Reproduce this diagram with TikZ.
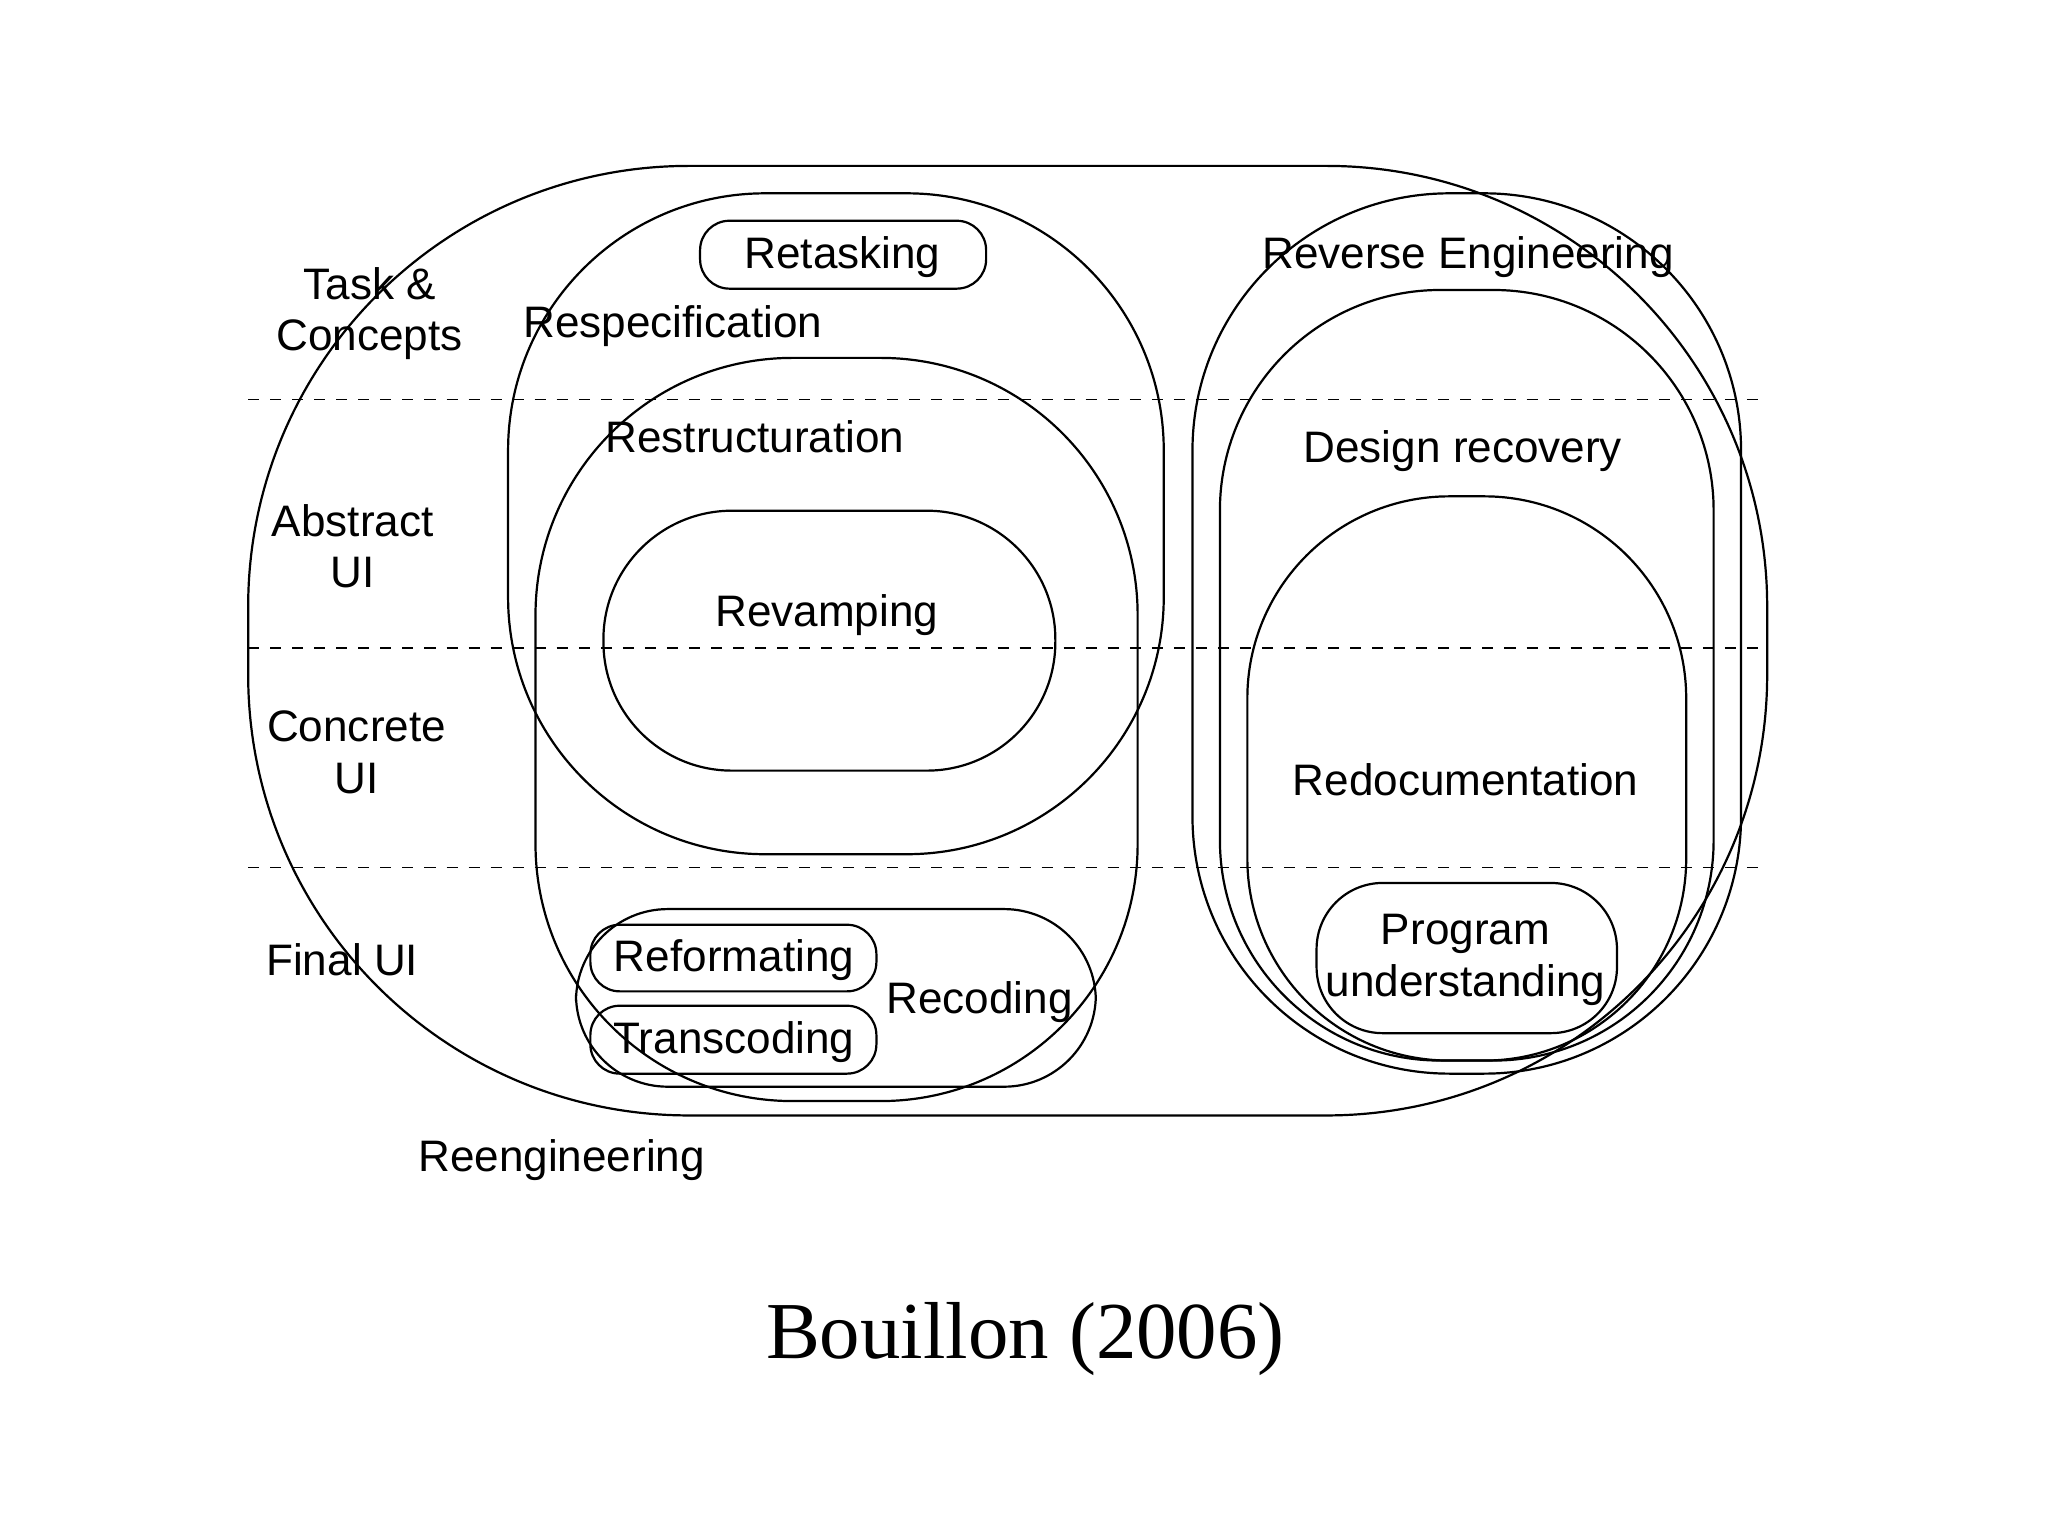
\documentclass[tikz,border=0pt]{standalone}
\usepackage{fontspec}
\setmainfont{Liberation Sans}
\newfontfamily\titlefont{Liberation Serif}
\begin{document}
\begin{tikzpicture}[x=0.0125cm,y=-0.0125cm,
  box/.style={draw,line width=0.6pt},
  lbl/.style={font=\fontsize{12}{14}\selectfont,align=center,inner sep=0pt},
  lvl/.style={draw,dashed,line width=0.4pt}]
\useasboundingbox (0,0) rectangle (1568,1176);
\fill[white] (0,0) rectangle (1568,1176);
% outer
\draw[box,rounded corners=120] (190,127) rectangle (1353,854);
\node[lbl] (reeng) at (430,888) {Reengineering};
% dashed level lines
\coordinate (d1a) at (190,306); \coordinate (d1b) at (1353,306);
\coordinate (d2a) at (190,496); \coordinate (d2b) at (1353,496);
\coordinate (d3a) at (190,664); \coordinate (d3b) at (1353,664);
\draw[lvl] (d1a) -- (d1b);
\draw[lvl] (d2a) -- (d2b);
\draw[lvl] (d3a) -- (d3b);
% row labels
\node[lbl] (tc) at (283,240) {Task \&\\Concepts};
\node[lbl] (aui) at (270,418) {Abstract\\UI};
\node[lbl] (cui) at (273,576) {Concrete\\UI};
\node[lbl] (fui) at (262,735) {Final UI};
% respecification
\draw[box,rounded corners=70] (389,148) rectangle (891,654);
\node[lbl] (respec) at (515,250) {Respecification};
\draw[box,rounded corners=8] (536,169) rectangle (755,221);
\node[lbl] (retask) at (645,197) {Retasking};
% restructuration
\draw[box,rounded corners=70] (410,274) rectangle (871,843);
\node[lbl] (restr) at (578,334) {Restructuration};
\draw[box,rounded corners=35] (462,391) rectangle (808,590);
\node[lbl] (revamp) at (633,471) {Revamping};
\draw[box,rounded corners=25] (441,696) rectangle (839,832);
\node[lbl] (recod) at (750,767) {Recoding};
\draw[box,rounded corners=8] (452,708) rectangle (671,759);
\node[lbl] (reform) at (562,735) {Reformating};
\draw[box,rounded corners=8] (452,770) rectangle (671,822);
\node[lbl] (trans) at (562,798) {Transcoding};
% reverse engineering
\draw[box,rounded corners=70] (913,148) rectangle (1333,822);
\node[lbl] (reveng) at (1124,197) {Reverse Engineering};
\draw[box,rounded corners=60] (934,222) rectangle (1312,812);
\node[lbl] (desrec) at (1120,345) {Design recovery};
\draw[box,rounded corners=55] (955,380) rectangle (1291,812);
\node[lbl] (redoc) at (1122,597) {Redocumentation};
\draw[box,rounded corners=18] (1008,676) rectangle (1238,791);
\node[lbl] (progu) at (1122,735) {Program\\understanding};
% title
\node[inner sep=0pt,font=\titlefont\fontsize{22}{26}\selectfont] (title) at (785,1025) {Bouillon (2006)};
\end{tikzpicture}
\end{document}
